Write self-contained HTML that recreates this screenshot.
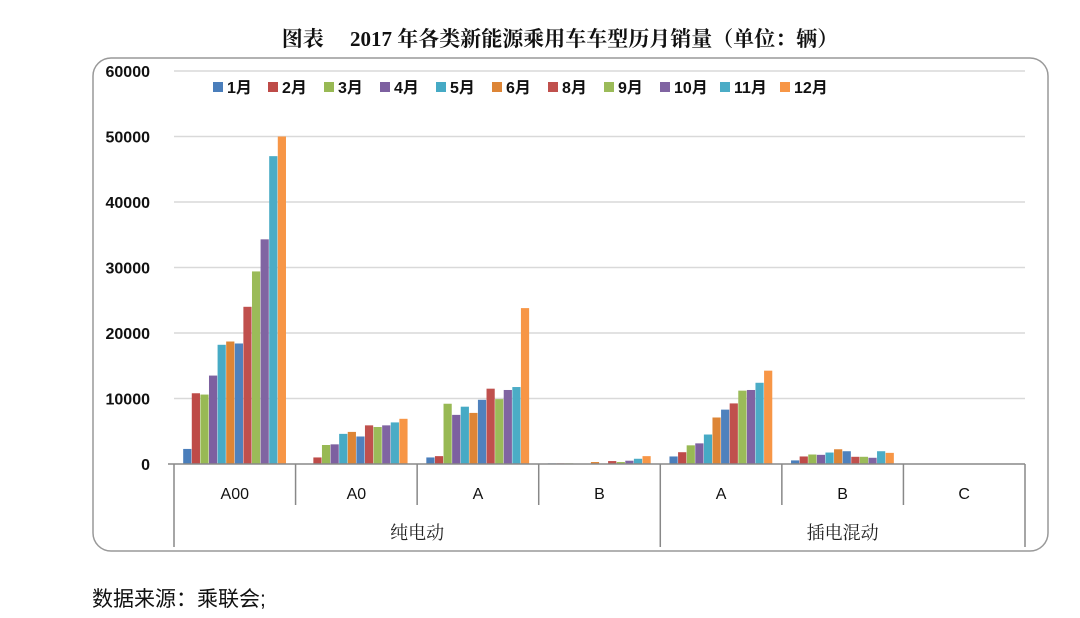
<!DOCTYPE html>
<html><head><meta charset="utf-8"><style>
body{margin:0;background:#fff;width:1080px;height:618px;overflow:hidden}
svg{display:block;font-family:"Liberation Sans","Noto Sans CJK SC",sans-serif}
</style></head><body>
<svg id="chart" width="1080" height="618">
<text x="560" y="46" text-anchor="middle" font-size="21" font-weight="bold" font-family="Liberation Serif,'Noto Serif CJK SC',serif" fill="#111">图表　 2017 年各类新能源乘用车车型历月销量（单位：辆）</text>
<rect x="93" y="58" width="955" height="493" rx="18" fill="none" stroke="#999" stroke-width="1.5"/>
<g id="grid"></g><g id="bars"></g><g id="axis"></g><g id="legend"></g>
<text x="92" y="606" font-size="21" fill="#111">数据来源：乘联会;</text>
</svg>
<script>
const categories=["A00","A0","A","B","A","B","C"];
const groups=["纯电动","插电混动"];
const months=["1月","2月","3月","4月","5月","6月","7月","8月","9月","10月","11月","12月"];
const legendMonths=["1月","2月","3月","4月","5月","6月","8月","9月","10月","11月","12月"];
const yTicks=[0,10000,20000,30000,40000,50000,60000];
const m1=[2300,0,1000,100,1150,550,0];
const m2=[10800,1000,1200,100,1800,1150,0];
const m3=[10600,2900,9200,100,2850,1450,0];
const m4=[13500,3000,7500,50,3150,1400,0];
const m5=[18200,4600,8750,50,4500,1750,0];
const m6=[18700,4900,7800,300,7100,2250,0];
const m7=[18400,4200,9800,50,8300,1950,0];
const m8=[24000,5900,11500,450,9250,1100,0];
const m9=[29400,5650,9900,300,11200,1100,0];
const m10=[34300,5900,11300,500,11300,950,0];
const m11=[47000,6350,11750,800,12400,1950,0];
const m12=[50000,6900,23800,1200,14250,1700,0];
const series=[m1,m2,m3,m4,m5,m6,m7,m8,m9,m10,m11,m12];
const colors=["#4a7ebb","#be4b48","#98b954","#7d60a0","#46aac5","#dd8536","#4f81bd","#c0504d","#9bbb59","#8064a2","#4bacc6","#f79646"];
const NS="http://www.w3.org/2000/svg";
const X0=174,X1=1025,Y0=464,Ytop=71,YMAX=60000;
const gw=(X1-X0)/categories.length;
const y=v=>Y0-(v/YMAX)*(Y0-Ytop);
function mk(tag,attrs,parent,text){const e=document.createElementNS(NS,tag);for(const k in attrs)e.setAttribute(k,attrs[k]);if(text!==undefined)e.textContent=text;document.getElementById(parent).appendChild(e);return e;}
yTicks.forEach(t=>{
  if(t>0){const l=mk("line",{x1:X0,x2:X1,y1:y(t),y2:y(t),stroke:"#d9d9d9","stroke-width":1.5},"grid");
  
  }
  const tx=mk("text",{x:150,y:y(t)+6,"text-anchor":"end","font-size":16,"font-weight":"bold",fill:"#111"},"grid",String(t));
  
  
});
const bw=8.6,pad=(gw-bw*12)/2;
series.forEach((s,si)=>{
  s.forEach((v,ci)=>{
    const r=mk("rect",{x:X0+ci*gw+pad+si*bw,y:y(v),width:bw-0.4,height:Y0-y(v),fill:colors[si]},"bars");
    
    
  });
});
const ax=mk("line",{x1:X0-6,x2:X1,y1:Y0,y2:Y0,stroke:"#888","stroke-width":1.5},"axis");


for(let i=0;i<=categories.length;i++){
  const x=X0+i*gw;const long=(i===0||i===4||i===7);
  const l=mk("line",{x1:x,x2:x,y1:Y0,y2:long?547:505,stroke:"#888","stroke-width":1.5},"axis");
  
  
}
categories.forEach((c,i)=>{
  const t=mk("text",{x:X0+(i+0.5)*gw,y:499,"text-anchor":"middle","font-size":16,fill:"#111"},"axis",c);
  
  
});
[[0,4],[4,7]].forEach((r,i)=>{
  const t=mk("text",{x:X0+(r[0]+r[1])/2*gw,y:539,"text-anchor":"middle","font-size":18,fill:"#222","font-family":"'Noto Serif CJK SC',serif"},"axis",groups[i]);
  
  
});
const lx=[213,268,324,380,436,492,548,604,660,720,780];
legendMonths.forEach((m,i)=>{
  const si=months.indexOf(m);
  const r=mk("rect",{x:lx[i],y:82,width:10,height:10,fill:colors[si]},"legend");
  
  
  const t=mk("text",{x:lx[i]+14,y:93,"font-size":16,fill:"#111","font-weight":"bold"},"legend",m);
  
  
});
</script>
</body></html>
